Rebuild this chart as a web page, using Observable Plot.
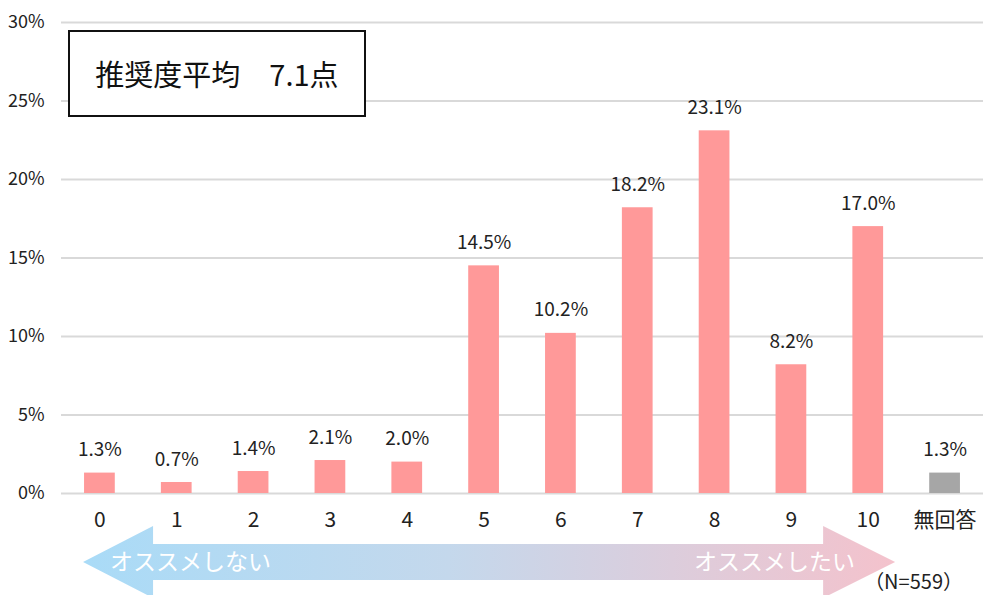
<!DOCTYPE html>
<html>
<head>
<meta charset="utf-8">
<script src="https://cdn.jsdelivr.net/npm/d3@7"></script>
<script src="https://cdn.jsdelivr.net/npm/@observablehq/plot@0.6"></script>
<style>
  html, body { margin: 0; padding: 0; background: #fff; }
  #chart { position: relative; width: 983px; height: 595px; overflow: hidden; }
  svg { font-family: "Noto Sans CJK JP", sans-serif; }
</style>
</head>
<body>
<div id="chart"></div>
<script>
const categories = ["0","1","2","3","4","5","6","7","8","9","10","無回答"];
const values = [1.3, 0.7, 1.4, 2.1, 2.0, 14.5, 10.2, 18.2, 23.1, 8.2, 17.0, 1.3];
const yTicks = [0, 5, 10, 15, 20, 25, 30];
const averageLabel = "推奨度平均　7.1点";
const leftArrowLabel = "オススメしない";
const rightArrowLabel = "オススメしたい";
const sampleLabel = "（N=559）";

const data = categories.map((c, i) => ({cat: c, v: values[i], na: c === "無回答"}));

const chart = Plot.plot({
  width: 983,
  height: 595,
  marginTop: 22,
  marginBottom: 102,
  marginLeft: 61,
  marginRight: 0,
  style: {fontSize: "19px", color: "#222", fontFamily: "\"Noto Sans CJK JP\", sans-serif"},
  x: {domain: categories, paddingInner: 0.6, paddingOuter: 0.3, round: false, label: null},
  y: {domain: [0, 30], label: null},
  marks: [
    Plot.ruleY(yTicks, {stroke: "#d9d9d9", strokeWidth: 2, strokeOpacity: 1}),
    Plot.barY(data, {x: "cat", y: "v", fill: d => d.na ? "#a6a6a6" : "#ff9999"}),
    Plot.text(data, {x: "cat", y: "v", text: d => d.v.toFixed(1) + "%", lineAnchor: "bottom", dy: -17, fontSize: 19, fill: "#222"}),
    Plot.axisY({ticks: yTicks, tickFormat: d => d + "%", tickSize: 0, tickPadding: 17, fontSize: 18, label: null}),
    Plot.axisX({tickSize: 0, tickPadding: 19, fontSize: 21, label: null})
  ]
});
document.getElementById("chart").appendChild(chart);

const svg = d3.select(chart);
const xs = chart.scale("x");
const x0 = xs.apply("0");
const xLast = xs.apply("10") + xs.bandwidth;

// Gradient arrow
const defs = svg.append("defs");
const grad = defs.append("linearGradient").attr("id", "arrowGrad").attr("x1", "0%").attr("x2", "100%");
grad.append("stop").attr("offset", "0%").attr("stop-color", "#a9dbf7");
grad.append("stop").attr("offset", "45%").attr("stop-color", "#c4d8ec");
grad.append("stop").attr("offset", "100%").attr("stop-color", "#f4c2cc");

const ay = 562, bodyH = 18, headH = 36;
const lt = x0 - 1, lb = lt + 70, rt = xLast + 12, rb = rt - 72;
svg.append("path")
  .attr("d", `M${lt},${ay} L${lb},${ay - headH} L${lb},${ay - bodyH} L${rb},${ay - bodyH} L${rb},${ay - headH} L${rt},${ay} L${rb},${ay + headH} L${rb},${ay + bodyH} L${lb},${ay + bodyH} L${lb},${ay + headH} Z`)
  .attr("fill", "url(#arrowGrad)");

svg.append("text").attr("x", lt + 27).attr("y", ay + 8).attr("text-anchor", "start").attr("fill", "#fff").attr("font-size", 23)
  .text(leftArrowLabel);
svg.append("text").attr("x", rt - 40).attr("y", ay + 8).attr("text-anchor", "end").attr("fill", "#fff").attr("font-size", 23)
  .text(rightArrowLabel);

svg.append("text").attr("x", 963).attr("y", 589).attr("text-anchor", "end").attr("fill", "#222").attr("font-size", 20)
  .text(sampleLabel);

// Average box
svg.append("rect").attr("x", 69).attr("y", 31).attr("width", 296).attr("height", 85)
  .attr("fill", "#fff").attr("stroke", "#111").attr("stroke-width", 2);
svg.append("text").attr("x", 217).attr("y", 86).attr("text-anchor", "middle").attr("fill", "#111").attr("font-size", 29)
  .text(averageLabel);
</script>
</body>
</html>
